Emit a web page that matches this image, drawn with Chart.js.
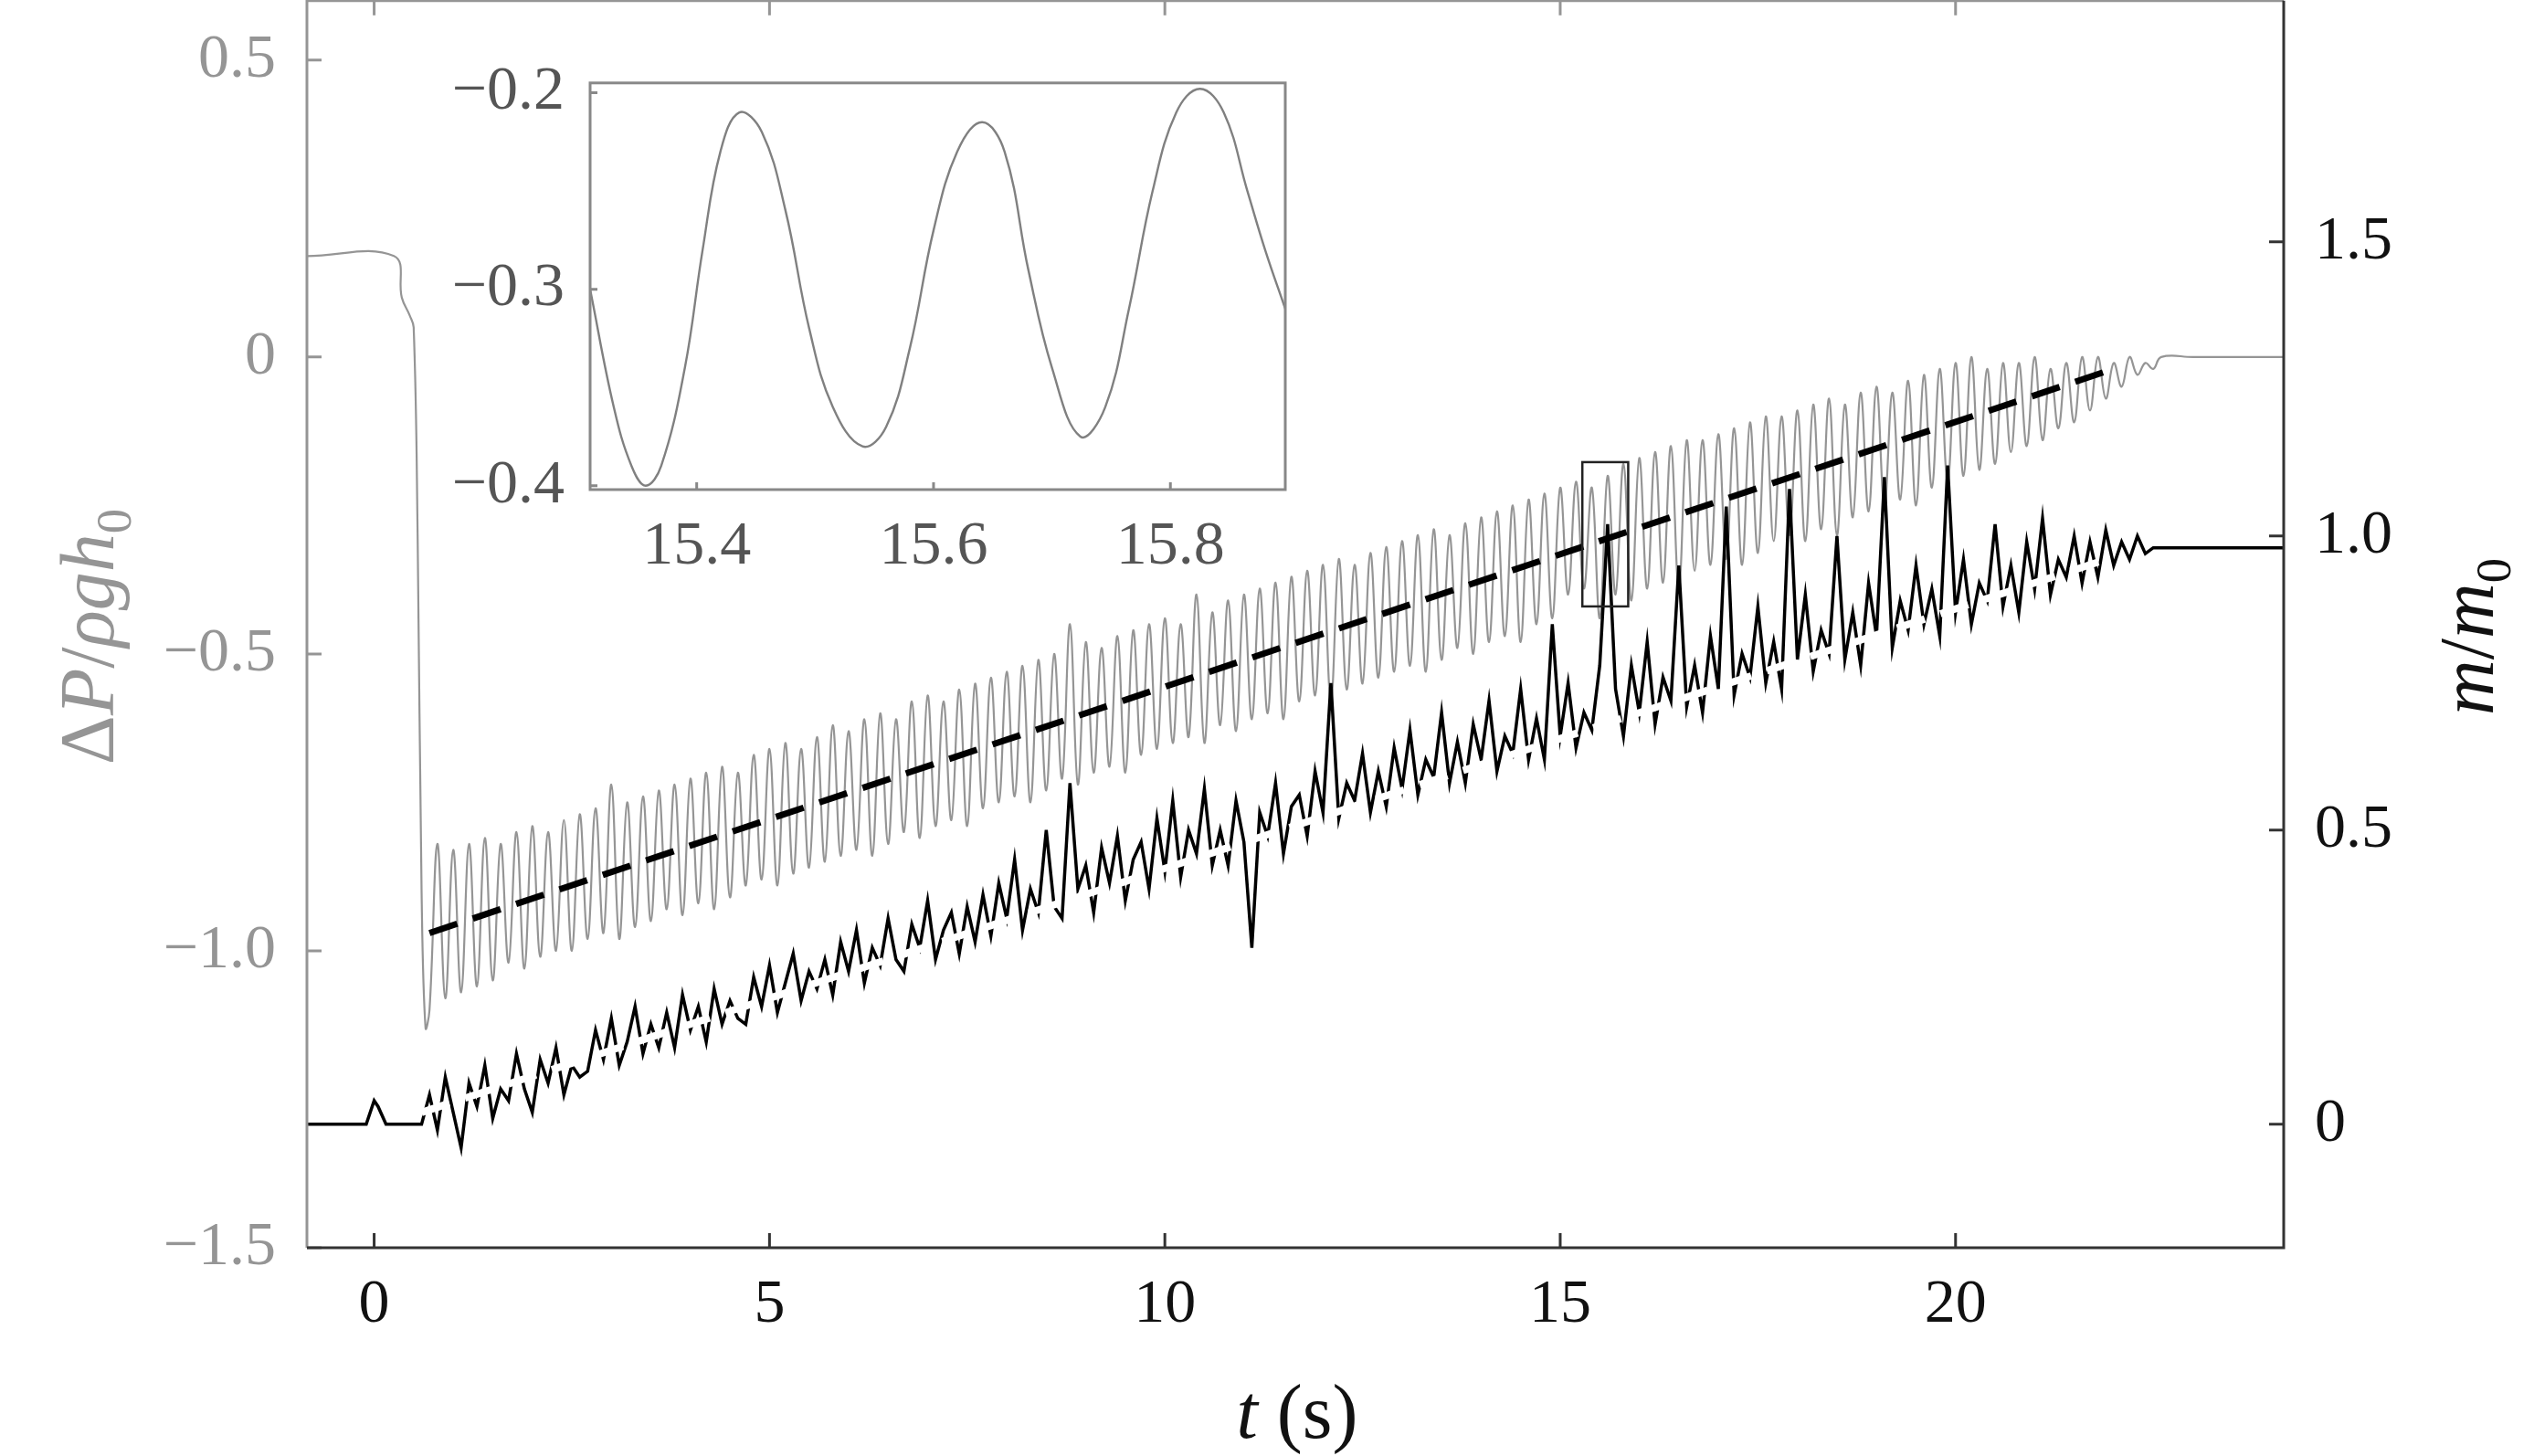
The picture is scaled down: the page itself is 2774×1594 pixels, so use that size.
<!DOCTYPE html>
<html>
<head>
<meta charset="utf-8">
<script src="https://cdn.jsdelivr.net/npm/chart.js@4"></script>
<style>
  html, body { margin: 0; padding: 0; background: #fff; overflow: hidden; }
  #wrap { position: relative; width: 2774px; height: 1594px; overflow: hidden; }
  #main { position: absolute; left: 0; top: -66px; }
  #inset { position: absolute; left: 400px; top: 30px; }
</style>
</head>
<body>
<div id="wrap">
  <canvas id="main" width="2774" height="1660"></canvas>
  <canvas id="inset" width="1030" height="630"></canvas>
</div>
<script>
// ---- data ----
// pressure (left axis): flat, then drop at valve opening
const pDropT = [-0.85, 0.25, 0.35, 0.45, 0.5, 0.55, 0.6, 0.65];
const pDropV = [0.17, 0.17, 0.10, 0.07, 0.05, -0.3, -0.9, -1.13];
// oscillating part, sampled every 0.1 s from t = 0.7
const pOscStart = 0.7, pOscStep = 0.1;
const pOscV = [
  -1.10,-0.82,-1.08,-0.83,-1.07,-0.82,-1.06,-0.81,-1.05,-0.82,
  -1.02,-0.80,-1.03,-0.79,-1.01,-0.80,-1.00,-0.78,-1.00,-0.77,
  -0.98,-0.76,-0.97,-0.72,-0.98,-0.75,-0.96,-0.74,-0.95,-0.73,
  -0.93,-0.72,-0.94,-0.71,-0.92,-0.70,-0.93,-0.69,-0.91,-0.70,
  -0.89,-0.67,-0.88,-0.66,-0.89,-0.65,-0.87,-0.66,-0.86,-0.64,
  -0.85,-0.62,-0.84,-0.63,-0.83,-0.61,-0.84,-0.60,-0.82,-0.61,
  -0.80,-0.58,-0.81,-0.57,-0.79,-0.58,-0.78,-0.56,-0.79,-0.55,
  -0.76,-0.54,-0.75,-0.53,-0.74,-0.52,-0.75,-0.51,-0.73,-0.50,
  -0.71,-0.45,-0.72,-0.48,-0.70,-0.49,-0.69,-0.47,-0.70,-0.46,
  -0.67,-0.45,-0.66,-0.44,-0.65,-0.45,-0.64,-0.40,-0.65,-0.43,
  -0.62,-0.41,-0.63,-0.40,-0.61,-0.39,-0.60,-0.38,-0.61,-0.37,
  -0.58,-0.36,-0.57,-0.35,-0.58,-0.34,-0.56,-0.35,-0.55,-0.33,
  -0.54,-0.32,-0.53,-0.31,-0.52,-0.30,-0.53,-0.29,-0.51,-0.30,
  -0.49,-0.28,-0.50,-0.27,-0.48,-0.26,-0.47,-0.25,-0.48,-0.24,
  -0.45,-0.23,-0.44,-0.22,-0.40,-0.21,-0.39,-0.22,-0.44,-0.20,
  -0.40,-0.18,-0.41,-0.17,-0.39,-0.16,-0.38,-0.15,-0.39,-0.14,
  -0.36,-0.14,-0.35,-0.13,-0.34,-0.12,-0.35,-0.11,-0.33,-0.10,
  -0.31,-0.10,-0.30,-0.09,-0.31,-0.08,-0.29,-0.07,-0.30,-0.08,
  -0.27,-0.06,-0.26,-0.05,-0.25,-0.06,-0.24,-0.04,-0.25,-0.03,
  -0.22,-0.02,-0.21,-0.01,-0.20, 0.00,-0.19,-0.02,-0.18,-0.01,
  -0.16,-0.01,-0.15, 0.00,-0.14,-0.02,-0.12,-0.01,-0.11, 0.00,
  -0.09, 0.00,-0.07,-0.01,-0.05, 0.00,-0.03,-0.01,-0.02, 0.00
];
const pTailT = [23.0, 24.15];
const pTailV = [0.0, 0.0];

// mass (right axis)
const mPreT = [-0.85, -0.1, 0.0, 0.05, 0.15, 0.6];
const mPreV = [0, 0, 0.04, 0.03, 0, 0];
const mOscStart = 0.7, mOscStep = 0.1;
const mOscV = [
  0.05,-0.01,0.08,0.02,-0.04,0.07,0.03,0.10,0.01,0.06,
  0.04,0.12,0.06,0.02,0.11,0.07,0.13,0.05,0.10,0.08,
  0.09,0.16,0.11,0.18,0.10,0.14,0.20,0.12,0.17,0.13,
  0.19,0.13,0.22,0.16,0.20,0.14,0.23,0.17,0.21,0.18,
  0.17,0.25,0.20,0.27,0.19,0.24,0.29,0.21,0.26,0.23,
  0.28,0.22,0.31,0.26,0.33,0.24,0.30,0.27,0.35,0.28,
  0.26,0.34,0.30,0.38,0.28,0.33,0.36,0.29,0.37,0.31,
  0.39,0.32,0.41,0.35,0.45,0.33,0.40,0.36,0.50,0.37,
  0.35,0.58,0.40,0.44,0.36,0.47,0.41,0.49,0.38,0.45,
  0.48,0.40,0.52,0.43,0.55,0.42,0.50,0.46,0.57,0.44,
  0.50,0.44,0.55,0.48,0.30,0.53,0.49,0.58,0.46,0.54,
  0.56,0.49,0.60,0.53,0.75,0.52,0.58,0.55,0.63,0.53,
  0.60,0.54,0.64,0.57,0.67,0.56,0.62,0.59,0.70,0.58,
  0.65,0.58,0.68,0.62,0.72,0.60,0.66,0.63,0.74,0.62,
  0.69,0.62,0.85,0.66,0.75,0.64,0.70,0.67,0.78,1.02,
  0.74,0.66,0.78,0.70,0.82,0.68,0.76,0.72,0.95,0.71,
  0.78,0.70,0.83,0.74,1.05,0.73,0.80,0.76,0.88,0.75,
  0.82,0.74,1.08,0.79,0.90,0.77,0.84,0.80,1.00,0.79,
  0.87,0.78,0.92,0.83,1.10,0.81,0.89,0.84,0.95,0.85,
  0.91,0.83,1.12,0.87,0.96,0.85,0.92,0.89,1.02,0.88,
  0.95,0.87,0.99,0.91,1.03,0.90,0.96,0.93,1.00,0.92,
  0.99,0.93,1.01,0.95,0.99,0.96,1.00,0.97,0.98,0.98
];
const mTailT = [22.8, 24.15];
const mTailV = [0.98, 0.98];

// dashed fit lines
const pFitT = [0.7, 22.0];
const pFitV = [-0.97, -0.02];
const mFitT = [0.6, 21.9];
const mFitV = [0.02, 0.96];

// inset (zoom of pressure near t = 15.6 s)
const insetT = [15.31,15.33,15.345,15.357,15.37,15.39,15.405,15.42,15.436,15.455,15.475,15.495,15.515,15.54,15.56,15.58,15.60,15.62,15.641,15.66,15.68,15.70,15.724,15.745,15.765,15.785,15.805,15.825,15.845,15.865,15.88,15.897];
const insetV = [-0.30,-0.36,-0.39,-0.40,-0.39,-0.34,-0.28,-0.23,-0.21,-0.22,-0.26,-0.32,-0.36,-0.38,-0.37,-0.33,-0.27,-0.23,-0.215,-0.23,-0.29,-0.34,-0.375,-0.36,-0.31,-0.25,-0.21,-0.198,-0.21,-0.25,-0.28,-0.31];

// ticks
const xTicks = [0, 5, 10, 15, 20];
const pTicks = [0.5, 0, -0.5, -1.0, -1.5];
const mTicks = [0, 0.5, 1.0, 1.5];
const insetXTicks = [15.4, 15.6, 15.8];
const insetYTicks = [-0.2, -0.3, -0.4];

// ---- helpers ----
const pts = (t, v) => t.map((x, i) => ({ x, y: v[i] }));
const stepPts = (t0, dt, v) => v.map((y, i) => ({ x: t0 + dt * i, y }));
const fmt = v => v === 0 ? '0' : v.toFixed(1).replace('-', '\u2212');
const setTicks = vals => scale => { scale.ticks = vals.map(value => ({ value })); };

const GRAY = '#959595';
const DARK = '#333';
const FONT = "'Liberation Serif', 'Times New Roman', serif";
const tickFont = { family: FONT, size: 68 };
const OFF = 66; // main canvas is shifted up by this much

const pressureData = [
  ...pts(pDropT, pDropV),
  ...stepPts(pOscStart, pOscStep, pOscV),
  ...pts(pTailT, pTailV)
];
const massData = [
  ...pts(mPreT, mPreV),
  ...stepPts(mOscStart, mOscStep, mOscV),
  ...pts(mTailT, mTailV)
];

// frame with inward ticks
const frame = {
  id: 'frame',
  afterDatasetsDraw(chart) {
    const ctx = chart.ctx, a = chart.chartArea;
    const x = chart.scales.x, yL = chart.scales.yL, yR = chart.scales.yR;
    const L = 16;
    ctx.save();
    ctx.lineWidth = 3;
    ctx.strokeStyle = GRAY;
    ctx.beginPath();
    ctx.moveTo(a.left, a.bottom); ctx.lineTo(a.left, a.top); ctx.lineTo(a.right, a.top);
    yL.ticks.forEach(t => {
      const py = yL.getPixelForValue(t.value);
      ctx.moveTo(a.left, py); ctx.lineTo(a.left + L, py);
    });
    xTicks.forEach(v => {
      const px = x.getPixelForValue(v);
      ctx.moveTo(px, a.top); ctx.lineTo(px, a.top + L);
    });
    ctx.stroke();
    ctx.strokeStyle = DARK;
    ctx.beginPath();
    ctx.moveTo(a.left, a.bottom); ctx.lineTo(a.right, a.bottom); ctx.lineTo(a.right, a.top);
    xTicks.forEach(v => {
      const px = x.getPixelForValue(v);
      ctx.moveTo(px, a.bottom); ctx.lineTo(px, a.bottom - L);
    });
    yR.ticks.forEach(t => {
      const py = yR.getPixelForValue(t.value);
      ctx.moveTo(a.right, py); ctx.lineTo(a.right - L, py);
    });
    ctx.stroke();
    ctx.restore();
  }
};

// axis titles and the small marker box
const decorations = {
  id: 'decorations',
  afterDraw(chart) {
    const ctx = chart.ctx;
    const x = chart.scales.x, yL = chart.scales.yL;
    ctx.save();
    ctx.strokeStyle = '#222';
    ctx.lineWidth = 2.5;
    const bx0 = x.getPixelForValue(15.28), bx1 = x.getPixelForValue(15.86);
    const by0 = yL.getPixelForValue(-0.177), by1 = yL.getPixelForValue(-0.42);
    ctx.strokeRect(bx0, by0, bx1 - bx0, by1 - by0);

    const size = 84;
    const drawParts = (parts, cx, cy, rot, color) => {
      ctx.save();
      ctx.translate(cx, cy + OFF);
      ctx.rotate(rot);
      ctx.fillStyle = color;
      let w = 0;
      parts.forEach(p => {
        ctx.font = `${p.it ? 'italic ' : ''}${p.sub ? size * 0.65 : size}px ${FONT}`;
        p.w = ctx.measureText(p.s).width;
        w += p.w;
      });
      let px = -w / 2;
      parts.forEach(p => {
        ctx.font = `${p.it ? 'italic ' : ''}${p.sub ? size * 0.65 : size}px ${FONT}`;
        ctx.fillText(p.s, px, size * 0.35 + (p.sub ? size * 0.22 : 0));
        px += p.w;
      });
      ctx.restore();
    };
    drawParts([{ s: 't', it: true }, { s: ' (s)' }], 1420, 1545, 0, '#111');
    drawParts([{ s: '\u0394' }, { s: 'P', it: true }, { s: '/' }, { s: '\u03c1gh', it: true }, { s: '0', sub: true }],
      95, 697, -Math.PI / 2, GRAY);
    drawParts([{ s: 'm', it: true }, { s: '/' }, { s: 'm', it: true }, { s: '0', sub: true }],
      2700, 697, -Math.PI / 2, '#111');
    ctx.restore();
  }
};

new Chart(document.getElementById('main'), {
  type: 'line',
  data: {
    // first dataset is drawn on top
    datasets: [
      { data: pts(mFitT, mFitV), yAxisID: 'yR', borderColor: '#fff', borderWidth: 8, borderDash: [32, 18], pointRadius: 0 },
      { data: pts(pFitT, pFitV), yAxisID: 'yL', borderColor: '#000', borderWidth: 7, borderDash: [32, 18], pointRadius: 0 },
      { data: massData, yAxisID: 'yR', borderColor: '#000', borderWidth: 3.5, pointRadius: 0, tension: 0 },
      { data: pressureData, yAxisID: 'yL', borderColor: GRAY, borderWidth: 2.2, pointRadius: 0, tension: 0.4 }
    ]
  },
  options: {
    responsive: false,
    animation: false,
    plugins: { legend: { display: false }, tooltip: { enabled: false } },
    scales: {
      x: {
        type: 'linear', min: -0.85, max: 24.15,
        afterBuildTicks: setTicks(xTicks),
        afterFit: s => { s.height = 228; },
        border: { display: false },
        grid: { display: false },
        ticks: { font: tickFont, color: '#111', padding: 14, callback: v => String(v) }
      },
      yL: {
        position: 'left', min: -1.5, max: 0.6,
        afterBuildTicks: setTicks(pTicks),
        afterFit: s => { s.width = 336; },
        border: { display: false },
        grid: { display: false },
        ticks: { font: tickFont, color: GRAY, padding: 26, callback: fmt }
      },
      yR: {
        position: 'right', min: -0.21, max: 1.91,
        afterBuildTicks: setTicks(mTicks),
        afterFit: s => { s.width = 274; },
        border: { display: false },
        grid: { display: false },
        ticks: { font: tickFont, color: '#111', padding: 26, callback: fmt }
      }
    }
  },
  plugins: [frame, decorations]
});

const insetFrame = {
  id: 'insetFrame',
  beforeDraw(chart) {
    const a = chart.chartArea, ctx = chart.ctx;
    ctx.save();
    ctx.fillStyle = '#fff';
    ctx.fillRect(a.left, a.top, a.right - a.left, a.bottom - a.top);
    ctx.restore();
  },
  afterDraw(chart) {
    const a = chart.chartArea, ctx = chart.ctx;
    const x = chart.scales.x, y = chart.scales.y;
    ctx.save();
    ctx.strokeStyle = '#888';
    ctx.lineWidth = 3;
    ctx.strokeRect(a.left, a.top, a.right - a.left, a.bottom - a.top);
    ctx.beginPath();
    insetYTicks.forEach(v => {
      const py = y.getPixelForValue(v);
      ctx.moveTo(a.left, py); ctx.lineTo(a.left + 8, py);
    });
    insetXTicks.forEach(v => {
      const px = x.getPixelForValue(v);
      ctx.moveTo(px, a.bottom); ctx.lineTo(px, a.bottom - 8);
    });
    ctx.stroke();
    ctx.restore();
  }
};

// inset box in page pixels: x 646-1407, y 66-536
new Chart(document.getElementById('inset'), {
  type: 'line',
  data: {
    datasets: [{ data: pts(insetT, insetV), borderColor: '#808080', borderWidth: 2.4, pointRadius: 0, tension: 0.4 }]
  },
  options: {
    responsive: false,
    animation: false,
    layout: { padding: { top: 36, right: 23 } },
    plugins: { legend: { display: false }, tooltip: { enabled: false } },
    scales: {
      x: {
        type: 'linear', min: 15.31, max: 15.897,
        afterBuildTicks: setTicks(insetXTicks),
        afterFit: s => { s.height = 124; },
        border: { display: false },
        grid: { display: false },
        ticks: { font: tickFont, color: '#555', padding: 14, callback: v => v.toFixed(1) }
      },
      y: {
        min: -0.402, max: -0.195,
        afterBuildTicks: setTicks(insetYTicks),
        afterFit: s => { s.width = 246; },
        border: { display: false },
        grid: { display: false },
        ticks: { font: tickFont, color: '#555', padding: 20, callback: fmt }
      }
    }
  },
  plugins: [insetFrame]
});
</script>
</body>
</html>
